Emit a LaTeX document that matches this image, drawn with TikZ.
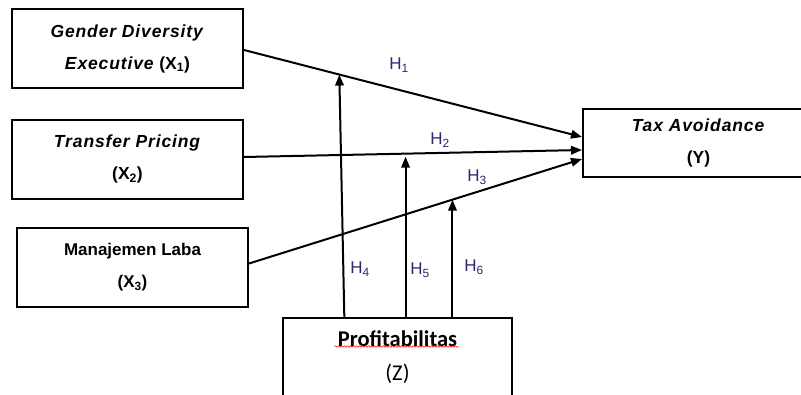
\documentclass[tikz,border=0pt]{standalone}
\usepackage{fontspec}
\setmainfont{Liberation Sans}[BoldItalicFeatures={LetterSpace=5}]
\newfontfamily\calibri{Carlito}
\usepackage{xcolor}
\usepackage{tikz}
\usetikzlibrary{arrows.meta}
\usetikzlibrary{calc}
\usetikzlibrary{decorations.pathmorphing}

\definecolor{hnavy}{RGB}{45,40,110}

\begin{document}
\begin{tikzpicture}[x=1pt,y=-1pt,
  var/.style={draw,line width=2pt,minimum width=231pt,minimum height=79pt,inner sep=0pt,align=center,font=\fontsize{17.5}{32}\selectfont\bfseries},
  arr/.style={line width=2pt,-{Triangle[length=11pt,width=8.5pt]}},
  hyp/.style={text=hnavy,inner sep=0pt,font=\fontsize{17}{19}\selectfont}]
  \clip (0,0) rectangle (801,394);
  % variables
  \node[var] (x1) at (127.5,48.5) {\textit{Gender Diversity}\\\textit{Executive} (X\textsubscript{1})};
  \node[var] (x2) at (127.5,159) {\textit{Transfer Pricing}\\(X\textsubscript{2})};
  \node[var] (x3) at (132.5,267.5) [font=\fontsize{17}{32}\selectfont\bfseries] {Manajemen Laba\\(X\textsubscript{3})};
  \node[var] (y) at (698.5,143) [minimum height=68pt] {\textit{Tax Avoidance}\\(Y)};
  \node[var] (z) at (397.5,357.5) [minimum width=229pt,font=\calibri\fontsize{22.5}{34}\selectfont] {\textbf{Profitabilitas}\\(Z)};
  \draw[red,line width=.5pt,decorate,decoration={snake,amplitude=.8pt,segment length=3pt}]
    ([xshift=-63pt,yshift=11pt]z.center) -- ++(124,0);
  % direct effects
  \draw[arr] ([yshift=-1.5pt]x1.east) -- coordinate[pos=.282] (m1) ([yshift=6pt]y.west);
  \draw[arr] ([yshift=2pt]x2.east) -- coordinate[pos=.478] (m2) ([yshift=-7pt]y.west);
  \draw[arr] ([yshift=4pt]x3.east) -- coordinate[pos=.611] (m3) ([yshift=-16pt]y.west);
  % moderation
  \draw[arr] ([xshift=5pt]m1 |- z.north) -- (m1);
  \draw[arr] (m2 |- z.north) -- ([yshift=-3pt]m2);
  \draw[arr] (m3 |- z.north) -- (m3);
  % labels
  \node[hyp] (h1) at (399,65) {H\textsubscript{1}};
  \node[hyp] (h2) at (440,140) {H\textsubscript{2}};
  \node[hyp] (h3) at (477,177) {H\textsubscript{3}};
  \node[hyp] (h4) at (360,269) {H\textsubscript{4}};
  \node[hyp] (h5) at (420,270) {H\textsubscript{5}};
  \node[hyp] (h6) at (474,267) {H\textsubscript{6}};
\end{tikzpicture}
\end{document}
